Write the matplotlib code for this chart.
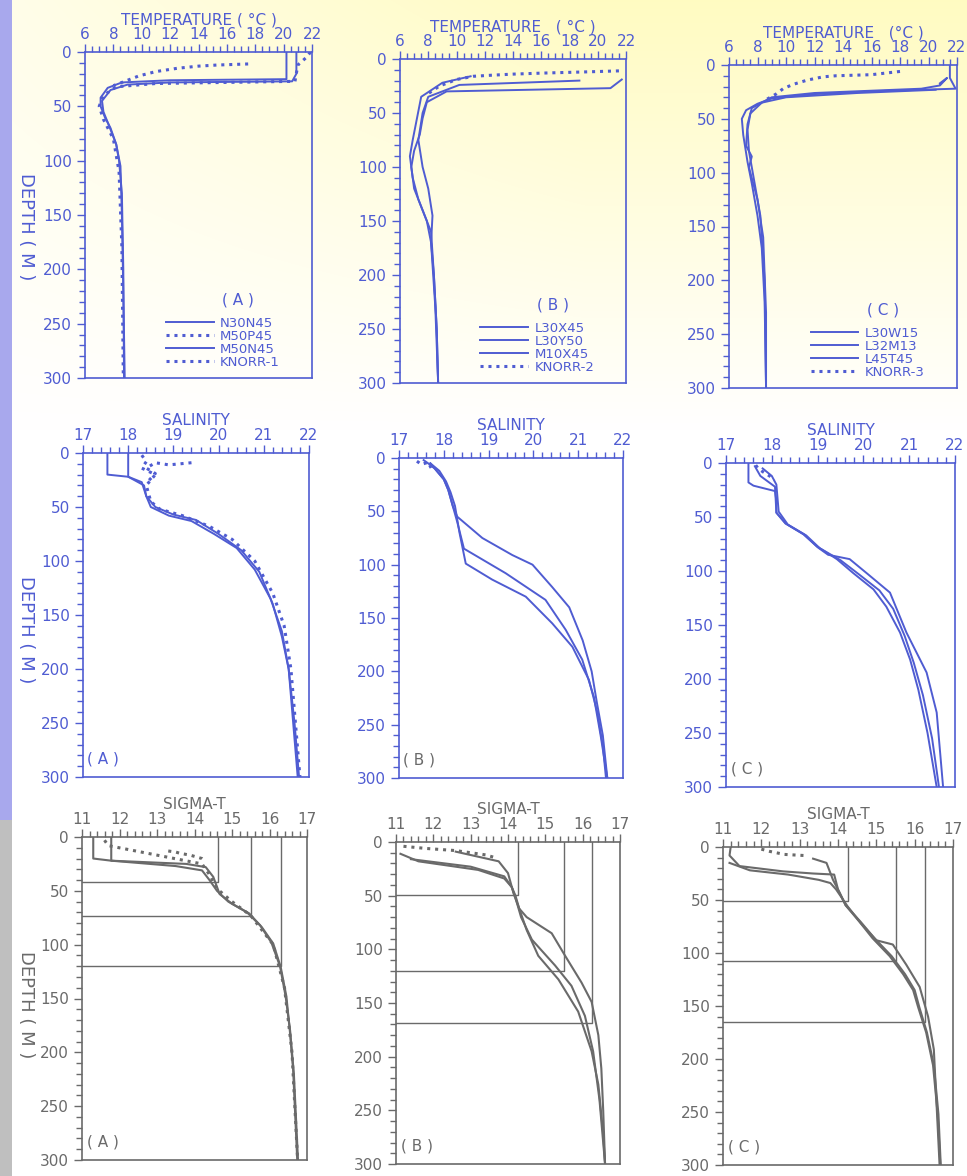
import numpy as np
import matplotlib
matplotlib.use("Agg")
import matplotlib.pyplot as plt
from matplotlib.ticker import MultipleLocator

BLUE = '#4f5cd2'
GREY = '#6a6a6a'

# ---------------- TEMPERATURE ----------------
# panel A
tA_n30n45_t = [20.2, 20.2, 12.0, 8.6, 7.6, 7.1, 7.1, 7.4, 7.8, 8.2, 8.4, 8.6, 8.7, 8.75]
tA_n30n45_z = [0, 25, 26, 28, 33, 42, 50, 60, 70, 85, 100, 130, 200, 300]
tA_m50p45_t = [21.9, 21.6, 21.0, 20.8, 11.0, 8.2, 7.3, 7.0, 7.3, 8.0, 8.4, 8.6, 8.7]
tA_m50p45_z = [0, 5, 12, 27, 29, 32, 40, 50, 62, 80, 110, 180, 300]
tA_m50n45_t = [20.9, 20.9, 20.6, 12.0, 9.0, 7.8, 7.2, 7.3, 7.7, 8.2, 8.5, 8.6, 8.7, 8.8]
tA_m50n45_z = [0, 20, 27, 28, 30, 35, 45, 55, 68, 85, 105, 150, 220, 300]
tA_knorr_t = [17.5, 15.3, 14.0, 12.5, 11.0, 9.8, 8.8, 8.0]
tA_knorr_z = [11, 12, 13, 15, 18, 22, 27, 31]

# panel B
tB_l30x45_t = [21.7, 20.9, 9.3, 7.9, 7.6, 7.4, 7.0, 6.8, 7.0, 7.6, 8.2, 8.4, 8.6, 8.7]
tB_l30x45_z = [19, 27, 30, 40, 55, 70, 85, 100, 120, 140, 160, 200, 250, 300]
tB_l30y50_t = [18.7, 10.2, 8.0, 7.6, 7.3, 7.6, 8.0, 8.3, 8.2, 8.5, 8.7]
tB_l30y50_z = [20, 24, 35, 50, 75, 100, 120, 145, 170, 230, 300]
tB_m10x45_t = [11.0, 9.0, 7.5, 7.2, 6.9, 6.7, 6.9, 7.3, 7.9, 8.2, 8.4, 8.6, 8.7]
tB_m10x45_z = [16, 22, 35, 55, 75, 90, 110, 130, 150, 170, 200, 250, 300]
tB_knorr_t = [21.5, 19.0, 16.2, 14.0, 12.5, 11.2, 10.0, 8.8, 8.0]
tB_knorr_z = [11, 12, 13, 14, 15, 16, 19, 25, 32]

# panel C
tC_l30w15_t = [21.5, 21.5, 21.9, 17.0, 12.0, 9.0, 8.0, 7.2, 6.9, 7.0, 7.3, 7.6, 8.0, 8.3, 8.5, 8.6]
tC_l30w15_z = [0, 12, 22, 24, 27, 31, 36, 42, 50, 65, 90, 110, 140, 170, 220, 300]
tC_l32m13_t = [20.8, 21.3, 20.8, 19.5, 12.0, 9.0, 7.6, 7.3, 7.2, 7.6, 7.4, 8.0, 8.4, 8.6, 8.6]
tC_l32m13_z = [17, 12, 19, 22, 26, 30, 40, 55, 75, 85, 95, 125, 160, 230, 300]
tC_l45t45_t = [20.5, 15.0, 10.0, 8.3, 7.5, 7.3, 7.4, 7.8, 8.2, 8.5, 8.6]
tC_l45t45_z = [23, 26, 30, 35, 45, 60, 80, 110, 140, 200, 300]
tC_knorr_t = [18.0, 16.0, 13.5, 12.6, 11.5, 10.5, 9.8, 9.3, 8.5]
tC_knorr_z = [6, 9, 10, 11, 14, 18, 22, 27, 33]

# ---------------- SALINITY ----------------
sA_1_s = [17.54, 17.54, 18.0, 18.3, 18.4, 18.6, 19.0, 19.5, 20.0, 20.5, 20.9, 21.2, 21.4, 21.55, 21.65, 21.75]
sA_1_z = [0, 20, 22, 27, 40, 50, 57, 62, 75, 90, 110, 140, 170, 200, 250, 300]
sA_2_s = [18.0, 18.0, 18.35, 18.4, 18.5, 18.9, 19.4, 19.9, 20.4, 20.8, 21.15, 21.4, 21.55, 21.68, 21.78]
sA_2_z = [0, 22, 30, 40, 50, 58, 63, 75, 88, 108, 135, 165, 200, 250, 300]
sA_3_s = [18.3, 18.4, 18.3, 18.6, 18.4, 18.5, 18.7, 19.2, 19.8, 20.3, 20.8, 21.2, 21.45, 21.6, 21.7, 21.8]
sA_3_z = [2, 8, 14, 20, 30, 45, 52, 58, 68, 80, 100, 130, 160, 200, 250, 300]
sA_k_s = [19.4, 18.9, 18.6, 18.4, 18.6, 18.4]
sA_k_z = [9, 11, 9, 14, 19, 28]

sB_1_s = [17.55, 17.65, 17.8, 18.0, 18.1, 18.2, 18.3, 18.86, 19.53, 19.98, 20.42, 20.8, 21.1, 21.3, 21.42, 21.55, 21.65]
sB_1_z = [2, 5, 10, 20, 30, 45, 55, 75, 91, 100, 121, 140, 171, 200, 230, 260, 300]
sB_2_s = [17.7, 17.8, 18.0, 18.1, 18.2, 18.3, 18.45, 19.38, 20.27, 20.72, 21.09, 21.35, 21.5, 21.65]
sB_2_z = [5, 10, 20, 30, 45, 60, 85, 108, 133, 161, 189, 224, 260, 300]
sB_3_s = [17.7, 17.9, 18.05, 18.15, 18.25, 18.35, 18.49, 19.08, 19.83, 20.42, 20.87, 21.24, 21.43, 21.55, 21.62]
sB_3_z = [5, 12, 22, 32, 45, 70, 99, 114, 130, 155, 177, 208, 239, 270, 300]
sB_k_s = [17.4, 17.5, 17.65, 17.7, 17.75]
sB_k_z = [3, 6, 4, 8, 12]

sC_1_s = [17.49, 17.49, 17.6, 18.07, 18.1, 18.1, 18.3, 18.69, 18.98, 19.42, 19.78, 20.22, 20.5, 20.8, 21.02, 21.2, 21.4, 21.6]
sC_1_z = [0, 18, 21, 26, 35, 46, 56, 66, 77, 89, 102, 117, 133, 157, 182, 210, 250, 300]
sC_2_s = [17.63, 17.75, 18.07, 18.1, 18.3, 18.7, 19.0, 19.23, 19.7, 20.1, 20.58, 20.94, 21.38, 21.6, 21.74]
sC_2_z = [3, 12, 22, 46, 56, 66, 78, 85, 89, 103, 120, 157, 194, 231, 300]
sC_3_s = [17.8, 18.0, 18.1, 18.15, 18.35, 18.75, 19.05, 19.5, 19.9, 20.35, 20.65, 20.9, 21.1, 21.3, 21.5, 21.65]
sC_3_z = [5, 12, 20, 45, 57, 67, 79, 90, 103, 118, 135, 160, 185, 215, 255, 300]
sC_k_s = [17.65, 17.7, 17.8, 17.95, 18.05]
sC_k_z = [2, 5, 8, 12, 16]

# ---------------- SIGMA-T ----------------
# reference isopycnal corners: depth of horizontal, sigma of vertical
gA_ref_z = [42, 73, 120]
gA_ref_g = [14.62, 15.5, 16.3]
gB_ref_z = [49, 120, 169]
gB_ref_g = [14.26, 15.5, 16.24]
gC_ref_z = [51, 108, 165]
gC_ref_g = [14.26, 15.52, 16.26]

gA_1_g = [11.3, 11.3, 11.78, 13.78, 14.3, 14.5, 14.67, 15.0, 15.46, 15.8, 16.1, 16.3, 16.45, 16.54, 16.63, 16.74]
gA_1_z = [0, 20, 22, 25, 28, 37, 53, 62, 71, 84, 99, 121, 148, 179, 216, 300]
gA_2_g = [11.78, 11.78, 13.5, 14.2, 14.4, 14.6, 14.9, 15.4, 15.75, 16.05, 16.28, 16.43, 16.55, 16.65, 16.76]
gA_2_z = [0, 22, 27, 31, 40, 50, 60, 70, 82, 98, 120, 148, 180, 220, 300]
gA_3_g = [11.6, 11.7, 14.2, 14.4, 14.6, 15.0, 15.5, 16.1, 16.4, 16.6, 16.75]
gA_3_z = [3, 8, 25, 35, 48, 60, 73, 100, 140, 200, 300]
gA_k_g = [13.3, 13.5, 13.6, 13.9, 14.1, 14.2, 14.3]
gA_k_z = [13, 14, 15, 17, 19, 20, 23]

gB_1_g = [11.12, 11.6, 13.2, 13.9, 14.1, 14.2, 14.3, 14.5, 15.17, 15.53, 15.97, 16.24, 16.42, 16.5, 16.55, 16.6]
gB_1_z = [11, 18, 26, 34, 42, 50, 62, 70, 85, 106, 131, 149, 180, 211, 250, 300]
gB_2_g = [11.4, 13.0, 13.9, 14.1, 14.2, 14.35, 14.64, 15.26, 15.7, 16.06, 16.28, 16.45, 16.6]
gB_2_z = [16, 23, 32, 42, 52, 70, 91, 115, 134, 162, 195, 240, 300]
gB_3_g = [12.6, 13.75, 14.0, 14.15, 14.3, 14.5, 14.81, 15.35, 15.88, 16.24, 16.42, 16.55, 16.6]
gB_3_z = [9, 18, 29, 48, 62, 82, 106, 128, 158, 195, 226, 272, 300]
gB_k_g = [11.2, 11.8, 12.6, 13.0, 13.4, 13.7]
gB_k_z = [4, 6, 8, 10, 12, 15]

gC_1_g = [11.2, 11.17, 11.43, 12.57, 13.35, 13.9, 14.0, 14.2, 14.6, 14.95, 15.4, 15.75, 16.0, 16.12, 16.32, 16.5, 16.62, 16.68]
gC_1_z = [0, 8, 18, 23, 25, 26, 40, 55, 71, 86, 103, 120, 135, 151, 175, 206, 252, 300]
gC_2_g = [11.17, 11.7, 12.7, 13.5, 13.8, 13.95, 14.1, 14.25, 14.6, 15.0, 15.43, 15.78, 16.13, 16.35, 16.5, 16.65]
gC_2_z = [15, 22, 26, 31, 34, 40, 48, 56, 72, 88, 92, 111, 132, 160, 191, 300]
gC_3_g = [13.35, 13.7, 13.87, 14.04, 14.2, 14.57, 14.9, 15.35, 15.7, 15.96, 16.09, 16.3, 16.48, 16.6, 16.67]
gC_3_z = [11, 15, 31, 43, 55, 71, 86, 103, 120, 135, 151, 175, 206, 252, 300]
gC_k_g = [12.0, 12.2, 12.6, 13.1]
gC_k_z = [2, 4, 7, 8]

names_A = ['N30N45', 'M50P45', 'M50N45', 'KNORR-1']
names_B = ['L30X45', 'L30Y50', 'M10X45', 'KNORR-2']
names_C = ['L30W15', 'L32M13', 'L45T45', 'KNORR-3']

W, H = 967, 1176
fig = plt.figure(figsize=(W / 100, H / 100), dpi=100)

# scanned-paper background: pale yellow at the top, tinted strip at the left edge
yy, xx = np.mgrid[0:H, 0:W]
tint = np.clip(1 - yy / 430.0, 0, 1) * np.clip(0.35 + xx / 900.0, 0, 1)
bg = np.ones((H, W, 3))
bg[..., 2] -= 0.24 * tint
bg[..., 1] -= 0.015 * tint
strip = xx < 12
bg[strip & (yy < 820)] = [0.66, 0.66, 0.93]
bg[strip & (yy >= 820)] = [0.75, 0.75, 0.75]
bgax = fig.add_axes([0, 0, 1, 1], zorder=-10)
bgax.imshow(bg, aspect='auto', interpolation='nearest')
bgax.axis('off')


def make_ax(x0, x1, y0, y1, xlim, major, minor, color):
    ax = fig.add_axes([x0 / W, 1 - y1 / H, (x1 - x0) / W, (y1 - y0) / H])
    ax.set_facecolor('none')
    ax.set_xlim(*xlim)
    ax.set_ylim(300, 0)
    ax.xaxis.tick_top()
    ax.xaxis.set_major_locator(MultipleLocator(major))
    ax.xaxis.set_minor_locator(MultipleLocator(minor))
    ax.yaxis.set_major_locator(MultipleLocator(50))
    ax.yaxis.set_minor_locator(MultipleLocator(10))
    ax.tick_params(which='both', colors=color, labelcolor=color, labelsize=11, width=1)
    ax.tick_params(which='major', length=6)
    ax.tick_params(which='minor', length=4)
    ax.tick_params(axis='x', which='major', pad=1)
    for s in ax.spines.values():
        s.set_color(color)
        s.set_linewidth(1.2)
    return ax


DOT = (0, (1, 1.6))

# ---- temperature row ----
temp_boxes = [(85, 312, 52, 378), (400, 626, 59, 383), (729, 957, 65, 388)]
temp_data = [
    [(tA_n30n45_t, tA_n30n45_z, '-'), (tA_m50p45_t, tA_m50p45_z, DOT),
     (tA_m50n45_t, tA_m50n45_z, '-'), (tA_knorr_t, tA_knorr_z, DOT)],
    [(tB_l30x45_t, tB_l30x45_z, '-'), (tB_l30y50_t, tB_l30y50_z, '-'),
     (tB_m10x45_t, tB_m10x45_z, '-'), (tB_knorr_t, tB_knorr_z, DOT)],
    [(tC_l30w15_t, tC_l30w15_z, '-'), (tC_l32m13_t, tC_l32m13_z, '-'),
     (tC_l45t45_t, tC_l45t45_z, '-'), (tC_knorr_t, tC_knorr_z, DOT)],
]
temp_titles = ['TEMPERATURE ( °C )', 'TEMPERATURE   ( °C )', 'TEMPERATURE   (°C )']
names = [names_A, names_B, names_C]
letters = ['( A )', '( B )', '( C )']

for i in range(3):
    ax = make_ax(*temp_boxes[i], (6, 22), 2, 0.5, BLUE)
    for (v, z, ls), nm in zip(temp_data[i], names[i]):
        ax.plot(v, z, color=BLUE, lw=1.4 if ls == '-' else 2.2, ls=ls, label=nm)
    ax.set_title(temp_titles[i], color=BLUE, fontsize=11, pad=20)
    ax.text(16.8, 228, letters[i], color=BLUE, fontsize=11, ha='center', va='center')
    ax.legend(loc='lower right', bbox_to_anchor=(0.9, 0.0), frameon=False, fontsize=9.5,
              labelcolor=BLUE, handlelength=3.6, labelspacing=0.0, handletextpad=0.5,
              borderaxespad=0.3)

# ---- salinity row ----
sal_boxes = [(83, 309, 453, 777), (399, 623, 458, 778), (726, 955, 463, 787)]
sal_data = [
    [(sA_1_s, sA_1_z, '-'), (sA_2_s, sA_2_z, '-'), (sA_3_s, sA_3_z, DOT), (sA_k_s, sA_k_z, DOT)],
    [(sB_1_s, sB_1_z, '-'), (sB_2_s, sB_2_z, '-'), (sB_3_s, sB_3_z, '-'), (sB_k_s, sB_k_z, DOT)],
    [(sC_1_s, sC_1_z, '-'), (sC_2_s, sC_2_z, '-'), (sC_3_s, sC_3_z, '-'), (sC_k_s, sC_k_z, DOT)],
]
for i in range(3):
    ax = make_ax(*sal_boxes[i], (17, 22), 1, 0.2, BLUE)
    for v, z, ls in sal_data[i]:
        ax.plot(v, z, color=BLUE, lw=1.4 if ls == '-' else 2.2, ls=ls)
    ax.set_title('SALINITY', color=BLUE, fontsize=11, pad=20)
    ax.text(17.45, 283, letters[i], color=GREY if i else BLUE, fontsize=11, ha='center', va='center')

# ---- sigma-t row ----
sig_boxes = [(82, 307, 837, 1160), (396, 620, 842, 1164), (723, 953, 847, 1165)]
sig_data = [
    [(gA_1_g, gA_1_z, '-'), (gA_2_g, gA_2_z, '-'), (gA_3_g, gA_3_z, DOT), (gA_k_g, gA_k_z, DOT)],
    [(gB_1_g, gB_1_z, '-'), (gB_2_g, gB_2_z, '-'), (gB_3_g, gB_3_z, '-'), (gB_k_g, gB_k_z, DOT)],
    [(gC_1_g, gC_1_z, '-'), (gC_2_g, gC_2_z, '-'), (gC_3_g, gC_3_z, '-'), (gC_k_g, gC_k_z, DOT)],
]
sig_refs = [(gA_ref_z, gA_ref_g), (gB_ref_z, gB_ref_g), (gC_ref_z, gC_ref_g)]
for i in range(3):
    ax = make_ax(*sig_boxes[i], (11, 17), 1, 0.2, GREY)
    for d, g in zip(*sig_refs[i]):
        ax.plot([11, g, g], [d, d, 0], color=GREY, lw=1.0)
    for v, z, ls in sig_data[i]:
        ax.plot(v, z, color=GREY, lw=1.5 if ls == '-' else 2.2, ls=ls)
    ax.set_title('SIGMA-T', color=GREY, fontsize=11, pad=20)
    ax.text(11.55, 283, letters[i], color=GREY, fontsize=11, ha='center', va='center')

# depth labels on the left column
for yc, c in [(227, BLUE), (630, BLUE), (1005, GREY)]:
    fig.text(26 / W, 1 - yc / H, 'DEPTH ( M )', rotation=-90,
             color=c, fontsize=13, ha='center', va='center')

fig.savefig('out.png', dpi=100)
